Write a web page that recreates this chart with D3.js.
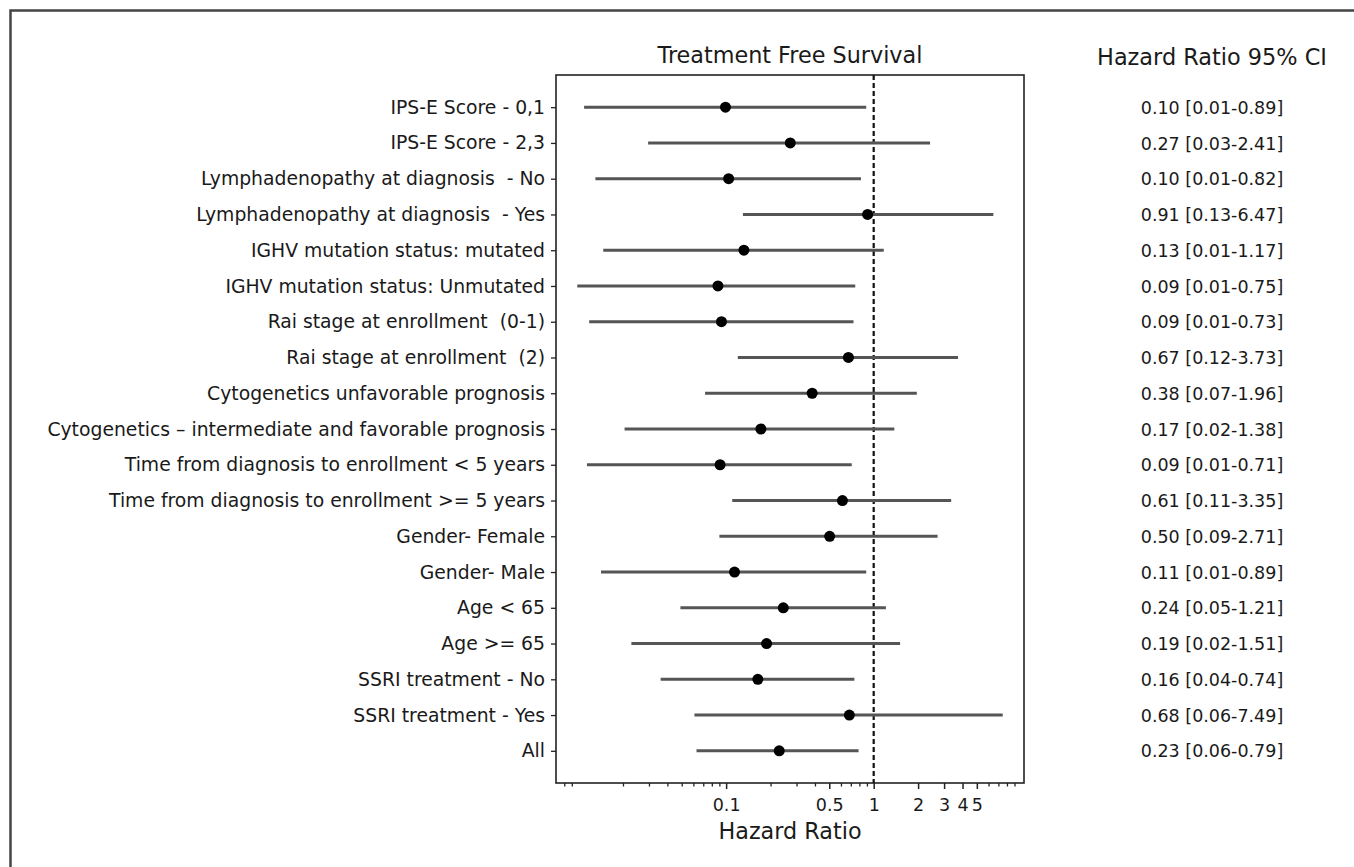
<!DOCTYPE html>
<html>
<head>
<meta charset="utf-8">
<script src="https://cdn.jsdelivr.net/npm/d3@7"></script>
<style>
  body { margin: 0; background: #fff; }
  svg { display: block; }
</style>
</head>
<body>
<script>
// rows of the forest plot, top to bottom (\u00a0 keeps the double spaces)
var categories = [
    "IPS-E Score - 0,1",
    "IPS-E Score - 2,3",
    "Lymphadenopathy at diagnosis\u00a0 - No",
    "Lymphadenopathy at diagnosis\u00a0 - Yes",
    "IGHV mutation status: mutated",
    "IGHV mutation status: Unmutated",
    "Rai stage at enrollment\u00a0 (0-1)",
    "Rai stage at enrollment\u00a0 (2)",
    "Cytogenetics unfavorable prognosis",
    "Cytogenetics \u2013 intermediate and favorable prognosis",
    "Time from diagnosis to enrollment < 5 years",
    "Time from diagnosis to enrollment >= 5 years",
    "Gender- Female",
    "Gender- Male",
    "Age < 65",
    "Age >= 65",
    "SSRI treatment - No",
    "SSRI treatment - Yes",
    "All"
];
// hazard ratio and 95% CI
var hazardRatio = [0.099, 0.272, 0.104, 0.91, 0.132, 0.088, 0.093, 0.674, 0.383, 0.172,
                   0.091, 0.614, 0.503, 0.114, 0.244, 0.188, 0.164, 0.684, 0.229];
var ciLow = [0.0109, 0.0296, 0.013, 0.13, 0.0147, 0.0098, 0.0118, 0.12, 0.072, 0.0205,
             0.0114, 0.11, 0.09, 0.0142, 0.049, 0.0228, 0.036, 0.061, 0.063];
var ciHigh = [0.89, 2.41, 0.82, 6.47, 1.17, 0.75, 0.73, 3.73, 1.96, 1.38,
              0.71, 3.35, 2.71, 0.89, 1.21, 1.51, 0.74, 7.49, 0.79];
// right hand column text
var ciLabels = [
    "0.10 [0.01-0.89]", "0.27 [0.03-2.41]", "0.10 [0.01-0.82]", "0.91 [0.13-6.47]",
    "0.13 [0.01-1.17]", "0.09 [0.01-0.75]", "0.09 [0.01-0.73]", "0.67 [0.12-3.73]",
    "0.38 [0.07-1.96]", "0.17 [0.02-1.38]", "0.09 [0.01-0.71]", "0.61 [0.11-3.35]",
    "0.50 [0.09-2.71]", "0.11 [0.01-0.89]", "0.24 [0.05-1.21]", "0.19 [0.02-1.51]",
    "0.16 [0.04-0.74]", "0.68 [0.06-7.49]", "0.23 [0.06-0.79]"
];
var xTickValues = [0.1, 0.5, 1, 2, 3, 4, 5];
var refLine = 1;

var width = 1354, height = 867;
var box = {left: 556, right: 1024, top: 75, bottom: 783};
var font = "DejaVu Sans";

var rows = categories.map(function (c, i) {
    return {name: c, hr: hazardRatio[i], lo: ciLow[i], hi: ciHigh[i], txt: ciLabels[i]};
});

var svg = d3.select("body").append("svg")
    .attr("width", width)
    .attr("height", height);

// figure frame (only top and left edges show)
svg.append("path")
    .attr("d", "M10.5," + height + "V10.5H" + width)
    .attr("fill", "none")
    .attr("stroke", "#444")
    .attr("stroke-width", 2.5);

// log x scale with 5% margin in log space like matplotlib
var lmin = Math.log10(d3.min(ciLow)), lmax = Math.log10(d3.max(ciHigh));
var pad = (lmax - lmin) * 0.05;
var x = d3.scaleLog()
    .domain([Math.pow(10, lmin - pad), Math.pow(10, lmax + pad)])
    .range([box.left, box.right]);

var y = d3.scalePoint()
    .domain(categories)
    .range([box.top, box.bottom])
    .padding(0.9);

// minor ticks
var minor = x.ticks().filter(function (d) {
    var l = Math.log10(d);
    return xTickValues.indexOf(+d.toPrecision(3)) < 0 && Math.abs(l - Math.round(l)) > 1e-6;
});
svg.append("g")
    .attr("transform", "translate(0," + box.bottom + ")")
    .call(d3.axisBottom(x).tickValues(minor).tickSize(3.5).tickFormat(""))
    .call(function (g) { g.select(".domain").remove(); })
    .selectAll("line").attr("stroke", "#222").attr("stroke-width", 1.3);

// major ticks + labels
var xAxis = svg.append("g")
    .attr("transform", "translate(0," + box.bottom + ")")
    .call(d3.axisBottom(x).tickValues(xTickValues).tickSize(6).tickPadding(10)
        .tickFormat(function (d) { return String(d); }));
xAxis.select(".domain").remove();
xAxis.selectAll("line").attr("stroke", "#222").attr("stroke-width", 1.5);
xAxis.selectAll("text")
    .attr("font-family", font)
    .attr("font-size", 17.5)
    .attr("fill", "#1a1a1a");

// y axis with category labels
var yAxis = svg.append("g")
    .attr("transform", "translate(" + box.left + ",0)")
    .call(d3.axisLeft(y).tickSize(5).tickPadding(6));
yAxis.select(".domain").remove();
yAxis.selectAll("line").attr("stroke", "#222").attr("stroke-width", 1.3);
yAxis.selectAll("text")
    .attr("font-family", font)
    .attr("font-size", 18.8)
    .attr("fill", "#1a1a1a");

// plot frame
svg.append("rect")
    .attr("x", box.left)
    .attr("y", box.top)
    .attr("width", box.right - box.left)
    .attr("height", box.bottom - box.top)
    .attr("fill", "none")
    .attr("stroke", "#222")
    .attr("stroke-width", 1.6);

// reference line at HR = 1
svg.append("line")
    .attr("x1", x(refLine)).attr("x2", x(refLine))
    .attr("y1", box.top).attr("y2", box.bottom)
    .attr("stroke", "#111")
    .attr("stroke-width", 2.2)
    .attr("stroke-dasharray", "5,3");

// confidence intervals
svg.selectAll(".ci")
    .data(rows)
    .enter()
    .append("line")
    .attr("class", "ci")
    .attr("x1", function (d) { return x(d.lo); })
    .attr("x2", function (d) { return x(d.hi); })
    .attr("y1", function (d) { return y(d.name); })
    .attr("y2", function (d) { return y(d.name); })
    .attr("stroke", "#555")
    .attr("stroke-width", 3);

// point estimates
svg.selectAll(".pt")
    .data(rows)
    .enter()
    .append("circle")
    .attr("class", "pt")
    .attr("cx", function (d) { return x(d.hr); })
    .attr("cy", function (d) { return y(d.name); })
    .attr("r", 5.5)
    .attr("fill", "#000");

// titles
var midX = (box.left + box.right) / 2;
svg.append("text")
    .attr("x", midX)
    .attr("y", 63)
    .attr("text-anchor", "middle")
    .attr("font-family", font)
    .attr("font-size", 22.3)
    .attr("fill", "#1a1a1a")
    .text("Treatment Free Survival");

svg.append("text")
    .attr("x", midX)
    .attr("y", 839)
    .attr("text-anchor", "middle")
    .attr("font-family", font)
    .attr("font-size", 22.3)
    .attr("fill", "#1a1a1a")
    .text("Hazard Ratio");

var colX = 1212;
svg.append("text")
    .attr("x", colX)
    .attr("y", 65)
    .attr("text-anchor", "middle")
    .attr("font-family", font)
    .attr("font-size", 22.4)
    .attr("fill", "#1a1a1a")
    .text("Hazard Ratio 95% CI");

svg.selectAll(".hrtxt")
    .data(rows)
    .enter()
    .append("text")
    .attr("class", "hrtxt")
    .attr("x", colX)
    .attr("y", function (d) { return y(d.name); })
    .attr("dy", "0.38em")
    .attr("text-anchor", "middle")
    .attr("font-family", font)
    .attr("font-size", 17.5)
    .attr("fill", "#1a1a1a")
    .text(function (d) { return d.txt; });
</script>
</body>
</html>
